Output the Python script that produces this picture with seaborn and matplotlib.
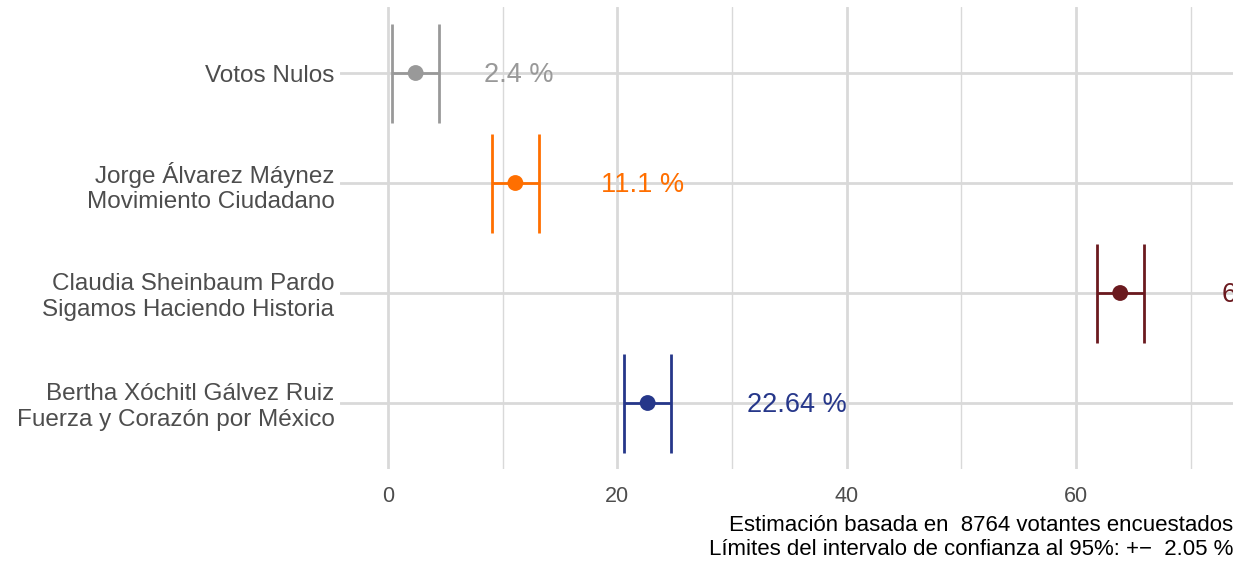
import numpy as np
import pandas as pd
import matplotlib
matplotlib.use("Agg")
import matplotlib.pyplot as plt
import seaborn as sns

# data
candidatos = ["Votos Nulos",
              "Jorge Álvarez Máynez\nMovimiento Ciudadano",
              "Claudia Sheinbaum Pardo\nSigamos Haciendo Historia",
              "Bertha Xóchitl Gálvez Ruiz\nFuerza y Corazón por México"]
porcentaje = [2.4, 11.1, 63.86, 22.64]
etiquetas = ["2.4 %", "11.1 %", "63.86 %", "22.64 %"]
pos_etiqueta = [8.4, 18.6, 72.7, 31.3]
colores = ["#999999", "#FF6F00", "#6B1A1F", "#26378A"]
margen = 2.05
n_votantes = 8764

df = pd.DataFrame({"candidato": candidatos, "pct": porcentaje,
                   "etiqueta": etiquetas, "lx": pos_etiqueta, "color": colores})
df["y"] = np.arange(len(df))
df["lo"] = df["pct"] - margen
df["hi"] = df["pct"] + margen

sns.set_theme(style="whitegrid")
plt.rcParams["font.family"] = ["Liberation Sans", "DejaVu Sans"]

fig = plt.figure(figsize=(12.49, 5.67), dpi=100)
ax = fig.add_axes([340 / 1249, 1 - 469 / 567, (1233 - 340) / 1249, (469 - 7) / 567])

# error bars
ax.hlines(df["y"], df["lo"], df["hi"], colors=df["color"], lw=2, zorder=3)
ax.vlines(df["lo"], df["y"] - 0.45, df["y"] + 0.45, colors=df["color"], lw=2, zorder=3)
ax.vlines(df["hi"], df["y"] - 0.45, df["y"] + 0.45, colors=df["color"], lw=2, zorder=3)
sns.scatterplot(data=df, x="pct", y="y", hue="candidato", palette=colores,
                s=130, edgecolor="none", legend=False, ax=ax, zorder=4)

for _, r in df.iterrows():
    ax.text(r["lx"], r["y"] + 0.02, r["etiqueta"], color=r["color"], fontsize=19.5,
            ha="left", va="center", clip_on=True, zorder=5)

ax.set_xlim(-4.2, 73.7)
ax.set_ylim(3.6, -0.6)
ax.set_yticks(df["y"])
ax.set_yticklabels(df["candidato"], fontsize=17.5, color="#4D4D4D", linespacing=1.2)
ax.set_xticks([0, 20, 40, 60])
ax.set_xticks([10, 30, 50, 70], minor=True)
ax.tick_params(axis="x", labelsize=15.5, colors="#4D4D4D", length=0, pad=12)
ax.tick_params(axis="y", length=0, pad=4)
ax.grid(which="major", color="#D9D9D9", lw=2)
ax.grid(which="minor", axis="x", color="#D9D9D9", lw=1)
ax.set_xlabel("")
ax.set_ylabel("")
for s in ax.spines.values():
    s.set_visible(False)

fig.text(1233 / 1249, 1 - 537.5 / 567,
         f"Estimación basada en  {n_votantes} votantes encuestados\n"
         f"Límites del intervalo de confianza al 95%: +−  {margen} %",
         ha="right", va="center", fontsize=16, color="black", linespacing=1.2)

fig.savefig("out.png", dpi=100)
